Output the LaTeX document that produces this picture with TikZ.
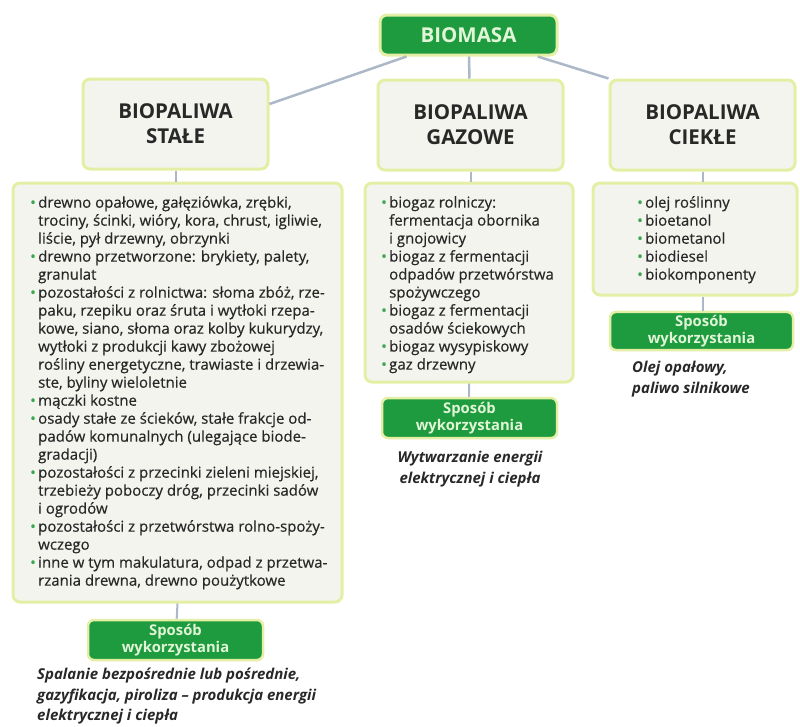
\documentclass[tikz,border=0pt]{standalone}
\usepackage{fontspec}
\setmainfont{Open Sans}
\usetikzlibrary{positioning}
\definecolor{zielony}{RGB}{30,155,62}
\definecolor{obwodka}{RGB}{228,239,165}
\definecolor{tlo}{RGB}{243,244,237}
\definecolor{linia}{RGB}{172,184,200}
\definecolor{tekst}{RGB}{40,40,40}
\definecolor{kropka}{RGB}{60,165,80}
\definecolor{napis}{RGB}{225,245,215}
\newcommand{\pkt}{\makebox[8pt][l]{\textcolor{kropka}{\textbullet}}}
\newcommand{\dal}{\hspace*{8pt}}
\begin{document}
\begin{tikzpicture}[x=1pt,y=-1pt,
    tytul/.style={draw=obwodka, line width=3pt, fill=tlo, rounded corners=7pt,
      minimum width=185pt, minimum height=90pt, align=center, text=tekst,
      font=\fontsize{20.5}{25}\selectfont\bfseries},
    zbior/.style={draw=obwodka, line width=3pt, fill=tlo, rounded corners=7pt},
    sposob/.style={draw=obwodka, line width=2.5pt, fill=zielony, rounded corners=6pt,
      minimum width=175pt, minimum height=40pt, align=center, text=napis,
      font=\fontsize{14.8}{16.5}\selectfont\bfseries},
    lista/.style={anchor=north west, inner sep=0pt, align=left, text=tekst,
      font=\fontsize{15}{18}\selectfont\addfontfeatures{FakeBold=0.4}},
    opis/.style={inner sep=0pt, text=tekst, font=\fontsize{15}{20.5}\selectfont\bfseries\itshape},
    laczy/.style={draw=linia, line width=2.5pt}]
  \useasboundingbox (0,0) rectangle (800,726);
  % gora
  \node[draw=obwodka, line width=3pt, fill=zielony, rounded corners=7pt,
    minimum width=177pt, minimum height=40pt, text=napis,
    font=\fontsize{20.5}{22}\selectfont\bfseries] (biomasa) at (468.5,35) {BIOMASA};
  \node[tytul] (stale) at (175.5,124) {BIOPALIWA\\STAŁE};
  \node[tytul] (gazowe) at (470.5,125) {BIOPALIWA\\GAZOWE};
  \node[tytul] (ciekle) at (702.5,125) {BIOPALIWA\\CIEKŁE};
  \draw[laczy] (biomasa) -- (stale.12);
  \draw[laczy] (biomasa) -- (gazowe);
  \draw[laczy] (biomasa) -- (ciekle.north west);
  % listy
  \node[zbior, minimum width=329pt, minimum height=419pt] (staleLista) at (177.5,392.5) {};
  \node[zbior, minimum width=208pt, minimum height=199pt] (gazoweLista) at (469,282.5) {};
  \node[zbior, minimum width=204pt, minimum height=112pt] (ciekleLista) at (695,239) {};
  \draw[laczy, line width=2pt] (stale.south) -- (stale.south |- staleLista.north);
  \draw[laczy, line width=2pt] (gazowe.south) -- (gazowe.south |- gazoweLista.north);
  \draw[laczy, line width=2pt] (ciekle.south) -- (ciekle.south |- ciekleLista.north);
  \node[lista] (staleTekst) at (30,196) {%
    \pkt drewno opałowe, gałęziówka, zrębki,\\
    \dal trociny, ścinki, wióry, kora, chrust, igliwie,\\
    \dal liście, pył drzewny, obrzynki\\
    \pkt drewno przetworzone: brykiety, palety,\\
    \dal granulat\\
    \pkt pozostałości z rolnictwa: słoma zbóż, rze-\\
    \dal paku, rzepiku oraz śruta i wytłoki rzepa-\\
    \dal kowe, siano, słoma oraz kolby kukurydzy,\\
    \dal wytłoki z produkcji kawy zbożowej\\
    \dal rośliny energetyczne, trawiaste i drzewia-\\
    \dal ste, byliny wieloletnie\\
    \pkt mączki kostne\\
    \pkt osady stałe ze ścieków, stałe frakcje od-\\
    \dal padów komunalnych (ulegające biode-\\
    \dal gradacji)\\
    \pkt pozostałości z przecinki zieleni miejskiej,\\
    \dal trzebieży poboczy dróg, przecinki sadów\\
    \dal i ogrodów\\
    \pkt pozostałości z przetwórstwa rolno-spoży-\\
    \dal wczego\\
    \pkt inne w tym makulatura, odpad z przetwa-\\
    \dal rzania drewna, drewno poużytkowe};
  \node[lista] (gazoweTekst) at (381,196) {%
    \pkt biogaz rolniczy:\\
    \dal fermentacja obornika\\
    \dal i gnojowicy\\
    \pkt biogaz z fermentacji\\
    \dal odpadów przetwórstwa\\
    \dal spożywczego\\
    \pkt biogaz z fermentacji\\
    \dal osadów ściekowych\\
    \pkt biogaz wysypiskowy\\
    \pkt gaz drzewny};
  \node[lista] (ciekleTekst) at (637,196) {%
    \pkt olej roślinny\\
    \pkt bioetanol\\
    \pkt biometanol\\
    \pkt biodiesel\\
    \pkt biokomponenty};
  % sposob wykorzystania
  \node[sposob] (staleUzycie) at (175.5,640) {Sposób\\wykorzystania};
  \node[sposob] (gazoweUzycie) at (469.5,418) {Sposób\\wykorzystania};
  \node[sposob, minimum width=183pt, minimum height=38pt] (ciekleUzycie) at (701.5,331) {Sposób\\wykorzystania};
  \draw[laczy, line width=2pt] (staleLista.south) -- (staleUzycie);
  \draw[laczy, line width=2pt] (gazoweLista.south) -- (gazoweUzycie);
  \draw[laczy, line width=2pt] (ciekleLista.south -| ciekle.south) -- (ciekle.south |- ciekleUzycie.north);
  \node[opis, anchor=north west, align=left] (staleOpis) at (37,668) {Spalanie bezpośrednie lub pośrednie,\\gazyfikacja, piroliza -- produkcja energii\\elektrycznej i ciepła};
  \node[opis, anchor=north, align=center] (gazoweOpis) at (470,451) {Wytwarzanie energii\\elektrycznej i ciepła};
  \node[opis, anchor=north west, align=left] (ciekleOpis) at (632,361) {Olej opałowy,\\paliwo silnikowe};
\end{tikzpicture}
\end{document}
